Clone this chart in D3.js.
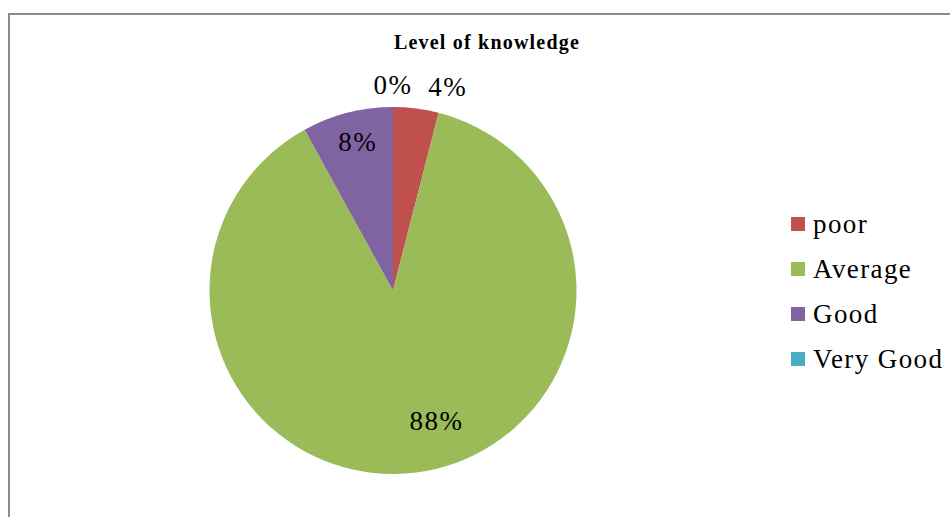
<!DOCTYPE html>
<head>
 <script src="https://cdn.jsdelivr.net/npm/d3@7"></script>
 <title>Level of knowledge</title>
</head>

<style>
body{
  margin: 0;
  background-color: white;
}
text{
  font-family: "Liberation Serif", "Times New Roman", serif;
}
</style>

<body>
 <div id="chart"></div>
</body>

<script type="text/javascript">
 // data
 var categories = ["poor", "Average", "Good", "Very Good"];
 var percents = [4, 88, 8, 0];
 var colors = ["#C0504D", "#9BBB59", "#8064A2", "#4BACC6"];

 var props = {
   width: 950,
   height: 517,
   cx: 393,
   cy: 290.5,
   radius: 183.5,
   legendX: 791,
   legendY: 217,
   legendStep: 45
 }

 var svg = d3.select("#chart").append("svg")
   .attr("width", props.width).attr("height", props.height);

 // chart frame, runs off the right and bottom edges
 svg.append("rect")
   .attr("x", 9).attr("y", 14)
   .attr("width", 1000).attr("height", 600)
   .attr("fill", "none")
   .attr("stroke", "#8a8a8a")
   .attr("stroke-width", 2);

 svg.append("text")
   .attr("x", 487).attr("y", 49)
   .attr("text-anchor", "middle")
   .style("font-weight", "bold")
   .style("font-size", "20px")
   .style("letter-spacing", "1.2px")
   .text("Level of knowledge");

 var pieData = categories.map(function(c, i){ return {name: c, value: percents[i], color: colors[i]}; });
 var pie = d3.pie().sort(null).value(function(d){ return d.value; });
 var arcs = pie(pieData);
 var arc = d3.arc().innerRadius(0).outerRadius(props.radius);

 var g = svg.append("g").attr("transform", "translate(" + props.cx + "," + props.cy + ")");
 g.selectAll("path").data(arcs).enter().append("path")
   .attr("d", arc)
   .attr("fill", function(d){ return d.data.color; });

 // label distance (as share of radius) and nudges, roughly like Excel's best fit
 var labelFit = {
   "poor":      {k: 1.12, dx: 29, dy: 0},
   "Average":   {k: 0.72, dx: 27, dy: -1},
   "Good":      {k: 0.88, dx: 5, dy: 7},
   "Very Good": {k: 1.12, dx: 0, dy: 0}
 };
 g.selectAll("text.lbl").data(arcs).enter().append("text")
   .attr("class", "lbl")
   .attr("text-anchor", "middle")
   .attr("dy", "0.35em")
   .style("font-size", "27px")
   .style("letter-spacing", "1.5px")
   .attr("transform", function(d){
     var f = labelFit[d.data.name];
     var a = (d.startAngle + d.endAngle) / 2;
     var r = props.radius * f.k;
     return "translate(" + (Math.sin(a) * r + f.dx) + "," + (-Math.cos(a) * r + f.dy) + ")";
   })
   .text(function(d){ return d.data.value + "%"; });

 var legend = svg.append("g");
 var rows = legend.selectAll("g").data(pieData).enter().append("g")
   .attr("transform", function(d, i){ return "translate(" + props.legendX + "," + (props.legendY + i * props.legendStep) + ")"; });
 rows.append("rect")
   .attr("width", 14).attr("height", 14)
   .attr("fill", function(d){ return d.color; });
 rows.append("text")
   .attr("x", 22).attr("y", 16)
   .style("font-size", "27px")
   .style("letter-spacing", "1.4px")
   .text(function(d){ return d.name; });
</script>
